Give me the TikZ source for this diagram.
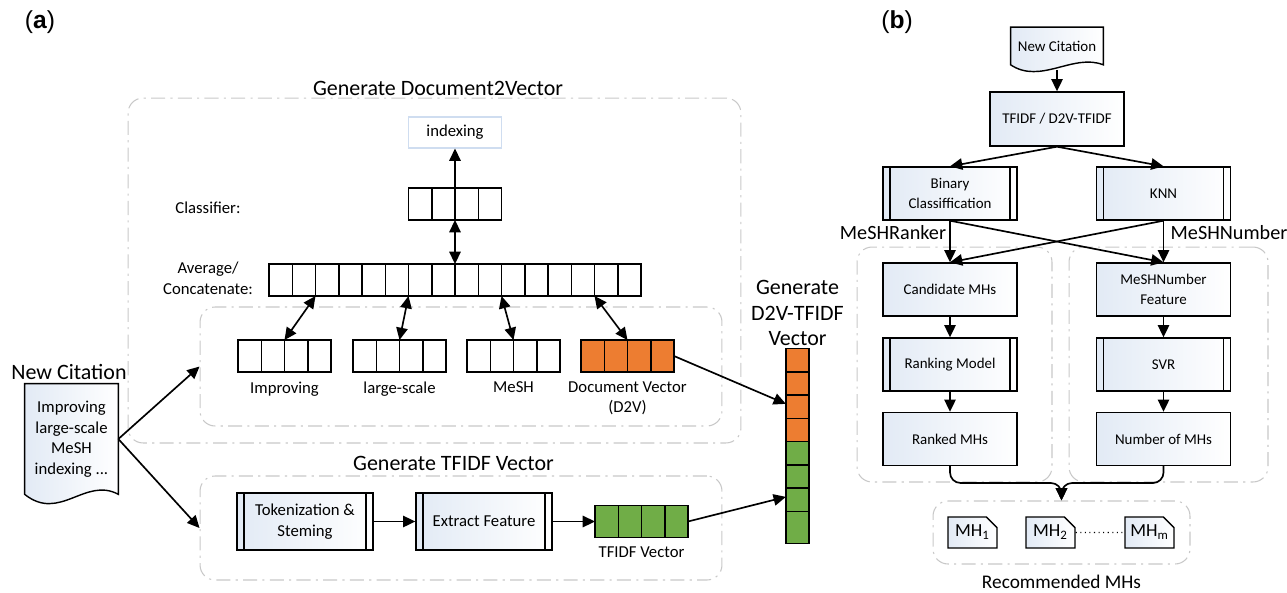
\documentclass[tikz,border=0pt]{standalone}
\usepackage{fontspec}
\setmainfont{Carlito}
\newfontfamily\panelfont{Liberation Sans}
\usetikzlibrary{arrows.meta,positioning,shapes.misc,backgrounds}

\definecolor{d2vorange}{HTML}{ED7D31}
\definecolor{tfgreen}{HTML}{70AD47}
\definecolor{grpgray}{HTML}{C8C8C8}
\definecolor{boxblue}{HTML}{E2EAF5}
\definecolor{idxblue}{HTML}{CFDDF0}

\tikzset{
  cell/.style={draw, line width=0.85pt, minimum width=0.465cm, minimum height=0.64cm, inner sep=0pt, outer sep=0pt},
  grp/.style={draw=grpgray, line width=0.6pt, rounded corners=0.3cm, dash pattern=on 8pt off 3pt on 1.2pt off 3pt, inner sep=0pt},
  proc/.style={draw, line width=0.8pt, left color=boxblue, right color=white, align=center, inner sep=1pt,
    font=\fontsize{8.5}{11}\selectfont, minimum width=2.68cm, minimum height=1.06cm},
  predef/.style={proc, path picture={
    \draw[line width=0.8pt] ([xshift=4pt]path picture bounding box.north west) -- ([xshift=4pt]path picture bounding box.south west)
      ([xshift=-4pt]path picture bounding box.north east) -- ([xshift=-4pt]path picture bounding box.south east);}},
  mhcard/.style={chamfered rectangle, chamfered rectangle corners=north east, chamfered rectangle xsep=3pt,
    chamfered rectangle ysep=3pt, draw, line width=0.8pt, left color=boxblue, right color=white,
    minimum width=0.98cm, minimum height=0.62cm, inner sep=0pt, font=\fontsize{10.5}{12}\selectfont},
  arr/.style={-{Triangle[length=7pt,width=6.5pt]}, line width=0.95pt},
  dbl/.style={{Triangle[length=7pt,width=6.5pt]}-{Triangle[length=7pt,width=6.5pt]}, line width=0.95pt},
  ttl/.style={font=\fontsize{12.5}{14.5}\selectfont},
  doc/.style={line width=0.8pt, left color=boxblue, right color=white},
}

\begin{document}
\begin{tikzpicture}[x=0.02cm, y=-0.02cm, font=\fontsize{9.5}{11.7}\selectfont]
\useasboundingbox (0,0) rectangle (1287,592);
\node[font=\panelfont\fontsize{14}{16}\selectfont] (pa) at (40,22) {(\textbf{a})};
\node[font=\panelfont\fontsize{14}{16}\selectfont] (pb) at (897,22) {(\textbf{b})};

% --- Document2Vector ---
\node[grp, minimum width=12.26cm, minimum height=6.9cm] (d2vgrp) at (434.5,270.5) {};
\node[ttl] (d2vttl) at (438,88) {Generate Document2Vector};
\node[grp, minimum width=10.44cm, minimum height=2.38cm] (wordgrp) at (461,366.5) {};
\node[draw=idxblue, line width=0.6pt, minimum width=1.86cm, minimum height=0.62cm] (idx) at (455,132.5) {indexing};
\foreach \i in {0,...,3}
  \node[cell] (cls\i) at ({408.5+11.625+\i*23.25},204) {};
\foreach \i in {0,...,15}
  \node[cell] (avg\i) at ({269+11.625+\i*23.25},280) {};
\node (clslab) at (208,208) {Classifier:};
\node[align=center] (avglab) at (208,278) {Average/\\Concatenate:};
\foreach \n/\x/\c in {imp/238/white,lrg/353/white,msh/467/white,d2v/581/d2vorange}
  \foreach \i in {0,...,3}
    \node[cell, fill=\c] (\n\i) at ({\x+11.625+\i*23.25},356) {};
\node[below=2pt of imp1.south east] (implab) {Improving};
\node[below=2pt of lrg1.south east] (lrglab) {large-scale};
\node[below=2pt of msh1.south east] (mshlab) {MeSH};
\node[below=2pt of d2v1.south east, align=center] (d2vlab) {Document Vector\\(D2V)};

\draw[dbl] (avg7.north east) -- (cls1.south east);
\draw[arr] (cls1.south east) -- (idx);
\foreach \a/\b in {1/imp1,5/lrg1,9/msh1,13/d2v1}
  \draw[dbl] (avg\a.south east) -- (\b.north east);

% --- TFIDF ---
\node[grp, minimum width=10.44cm, minimum height=2.08cm] (tfgrp) at (461,528) {};
\node[ttl] (tfttl) at (453.5,463) {Generate TFIDF Vector};
\node[predef, minimum width=2.72cm, minimum height=1.14cm, font=\fontsize{9.5}{12}\selectfont] (tok) at (305,521.5) {Tokenization \&\\Steming};
\node[predef, minimum width=2.72cm, minimum height=1.14cm, font=\fontsize{9.5}{12}\selectfont] (ext) at (484,521.5) {Extract Feature};
\foreach \i in {0,...,3}
  \node[cell, fill=tfgreen] (tf\i) at ({595+11.625+\i*23.25},521.5) {};
\node[below=2pt of tf1.south east] (tflab) {TFIDF Vector};
\draw[arr] (tok) -- (ext);
\draw[arr] (ext) -- (tf0.west);

% --- D2V-TFIDF ---
\foreach \i/\c in {0/d2vorange,1/d2vorange,2/d2vorange,3/d2vorange,4/tfgreen,5/tfgreen,6/tfgreen,7/tfgreen}
  \node[cell, fill=\c] (cat\i) at (797.5,{353+11.625+\i*23.25}) {};
\node[ttl, align=center] (catttl) at (797.5,313) {Generate\\D2V-TFIDF\\Vector};
\draw[arr] (d2v3.east) -- (cat1.south west);
\draw[arr] (tf3.east) -- (cat5.south west);

% --- new citation ---
\node[ttl] (citttl) at (69,372) {New Citation};
\node[align=center, minimum width=1.86cm, minimum height=2.2cm, inner sep=0pt] (cit) at (71.5,439) {Improving\\large-scale\\MeSH\\indexing ...};
\draw[arr] (cit.east) -- (wordgrp.west);
\draw[arr] (cit.east) -- (tfgrp.west);

% --- (b) ---
\node[grp, minimum width=3.9cm, minimum height=4.7cm] (rkgrp) at (954.5,364.5) {};
\node[grp, minimum width=3.98cm, minimum height=4.7cm] (nmgrp) at (1168.5,364.5) {};
\node[font=\fontsize{11.5}{13}\selectfont] (rkttl) at (893,233) {MeSHRanker};
\node[font=\fontsize{11.5}{13}\selectfont] (nmttl) at (1229,233) {MeSHNumber};
\node[font=\fontsize{8.5}{11}\selectfont, minimum width=1.84cm, minimum height=0.74cm, inner sep=0pt] (cit2) at (1057,46) {New Citation};
\node[proc, minimum height=1.08cm] (tfd) at (1057,119) {TFIDF / D2V-TFIDF};
\node[predef] (bin) at (950,193.5) {Binary\\Classiffication};
\node[predef] (knn) at (1163.5,193.5) {KNN};
\node[proc] (cand) at (950,289.5) {Candidate MHs};
\node[proc] (feat) at (1163.5,289.5) {MeSHNumber\\Feature};
\node[predef] (rmod) at (950,364.5) {Ranking Model};
\node[predef] (svr) at (1163.5,364.5) {SVR};
\node[proc] (rmhs) at (950,439) {Ranked MHs};
\node[proc] (nmhs) at (1163.5,439) {Number of MHs};

\draw[arr] ([yshift=-3pt]cit2.south) -- (tfd);
\draw[arr] (tfd.south) -- (bin.north);
\draw[arr] (tfd.south) -- (knn.north);
\foreach \a/\b in {bin/cand,bin/feat,knn/cand,knn/feat,cand/rmod,rmod/rmhs,feat/svr,svr/nmhs}
  \draw[arr] (\a.south) -- (\b.north);

\node[grp, minimum width=5.14cm, minimum height=1.26cm] (recgrp) at (1061.5,532.5) {};
\node[font=\fontsize{11}{13}\selectfont] (recttl) at (1061.5,582) {Recommended MHs};
\coordinate (mrg) at (1061.5,483);
\draw[arr, rounded corners=6pt] (rmhs.south) |- (mrg) -- (recgrp.north);
\draw[arr, rounded corners=6pt] (nmhs.south) |- (mrg) -- (recgrp.north);
\node[mhcard] (mh1) at (972.5,532.5) {MH\textsubscript{1}};
\node[mhcard] (mh2) at (1050.5,532.5) {MH\textsubscript{2}};
\node[mhcard] (mhm) at (1149.5,532.5) {MH\textsubscript{m}};
\draw[dotted, line width=0.6pt] (mh2) -- (mhm);

% document outlines go behind their text
\begin{scope}[on background layer]
  \draw[doc] (cit.north west) -- (cit.north east) -- (cit.south east)
    .. controls +(-33,-18) and +(35,28) .. (cit.south west) -- cycle;
  \draw[doc] (cit2.north west) -- (cit2.north east) -- (cit2.south east)
    .. controls +(-30,-12) and +(30,20) .. (cit2.south west) -- cycle;
\end{scope}
\end{tikzpicture}
\end{document}
